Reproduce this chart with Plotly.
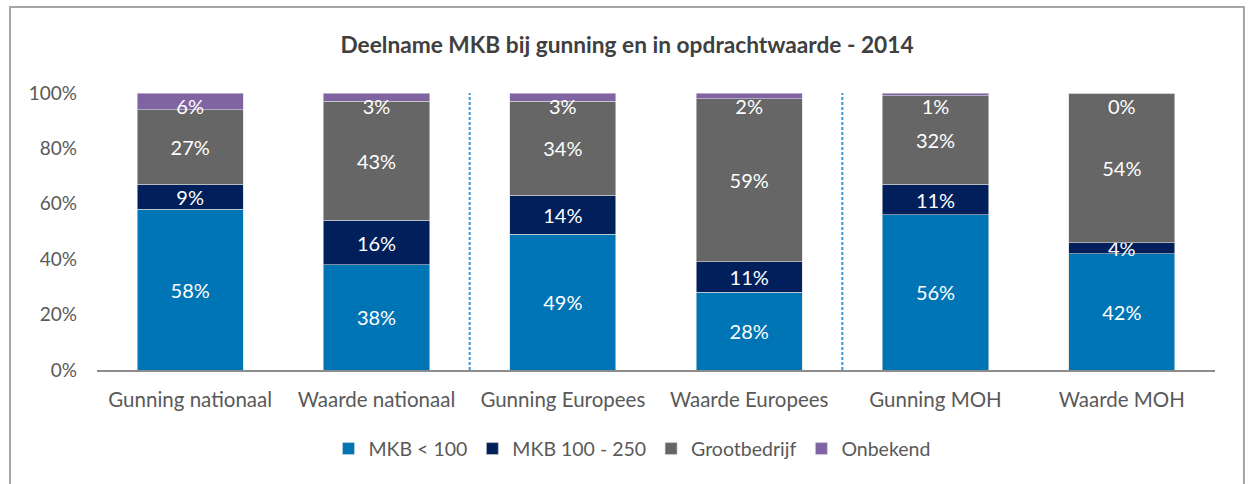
import plotly.graph_objects as go

categories = ["Gunning nationaal", "Waarde nationaal", "Gunning Europees",
              "Waarde Europees", "Gunning MOH", "Waarde MOH"]
mkb_klein = [58, 38, 49, 28, 56, 42]
mkb_middel = [9, 16, 14, 11, 11, 4]
grootbedrijf = [27, 43, 34, 59, 32, 54]
onbekend = [6, 3, 3, 2, 1, 0]
series_names = ["MKB < 100", "MKB 100 - 250", "Grootbedrijf", "Onbekend"]
colors = ["#0075B6", "#001F5B", "#666666", "#8064A2"]
yticks = [0, 20, 40, 60, 80, 100]
ytick_labels = ["0%", "20%", "40%", "60%", "80%", "100%"]
separators_after = [1, 3]  # dashed line after these category indices

FONT = "Lato, Carlito, Calibri, sans-serif"

fig = go.Figure()
series = [mkb_klein, mkb_middel, grootbedrijf, onbekend]
for i, (name, vals, col) in enumerate(zip(series_names, series, colors)):
    is_top = i == 3
    fig.add_trace(go.Bar(
        name=name, x=categories, y=vals,
        marker=dict(color=col, line=dict(color="#d9d9d9", width=0.6)),
        text=None if is_top else [f"{v}%" for v in vals],
        textposition="inside", insidetextanchor="middle", textangle=0,
        textfont=dict(color="white", size=20, family=FONT),
        hoverinfo="name+y",
    ))

# Labels for the small top segment (shown just below the 100% line)
totals = [a + b + c + d for a, b, c, d in zip(mkb_klein, mkb_middel, grootbedrijf, onbekend)]
fig.add_trace(go.Scatter(
    x=categories, y=totals, mode="markers+text",
    marker=dict(size=8, opacity=0),
    text=[f"{v}%" for v in onbekend], textposition="bottom center",
    textfont=dict(color="white", size=20, family=FONT),
    showlegend=False, hoverinfo="skip",
))

shapes = []
for idx in separators_after:
    shapes.append(dict(type="line", xref="x", yref="y", x0=idx + 0.5, x1=idx + 0.5,
                       y0=0, y1=102.5, line=dict(color="#3d95d2", width=2, dash="3px,2px")))
# outer chart frame
shapes.append(dict(type="rect", xref="paper", yref="paper",
                   x0=-0.0778, x1=1.0259, y0=-0.45, y1=1.3105,
                   line=dict(color="#a6a6a6", width=2), layer="below"))

fig.update_layout(
    barmode="stack", bargap=0.43,
    width=1250, height=484,
    margin=dict(l=97, r=35, t=93, b=114, autoexpand=False),
    paper_bgcolor="white", plot_bgcolor="white",
    title=dict(text="<b>Deelname MKB bij gunning en in opdrachtwaarde - 2014</b>",
               x=627 / 1250, xanchor="center", xref="container", y=1 - 45 / 484, yanchor="middle",
               font=dict(size=22.7, color="#404040", family=FONT)),
    font=dict(family=FONT, color="#595959", size=17),
    legend=dict(orientation="h", x=(632 - 97) / 1118, xanchor="center",
                y=-0.285, yanchor="middle",
                font=dict(size=19.5, color="#595959", family=FONT), traceorder="normal",
                itemwidth=30),
    uniformtext=dict(minsize=20, mode="show"),
    shapes=shapes,
    showlegend=True,
)
fig.update_yaxes(range=[0, 100], tickvals=yticks, ticktext=ytick_labels,
                 showgrid=False, zeroline=False, showline=False,
                 ticklabelstandoff=19, tickfont=dict(size=19, color="#595959"))
fig.update_xaxes(showline=True, linecolor="#8c8c8c", linewidth=2,
                 showgrid=False, ticks="", ticklabelstandoff=10, tickangle=0,
                 tickfont=dict(size=20.5, color="#595959"))

fig.write_html(
    "out.html",
    config={"displayModeBar": False},
    post_script="document.body.style.margin='0';document.body.style.overflow='hidden';",
)
